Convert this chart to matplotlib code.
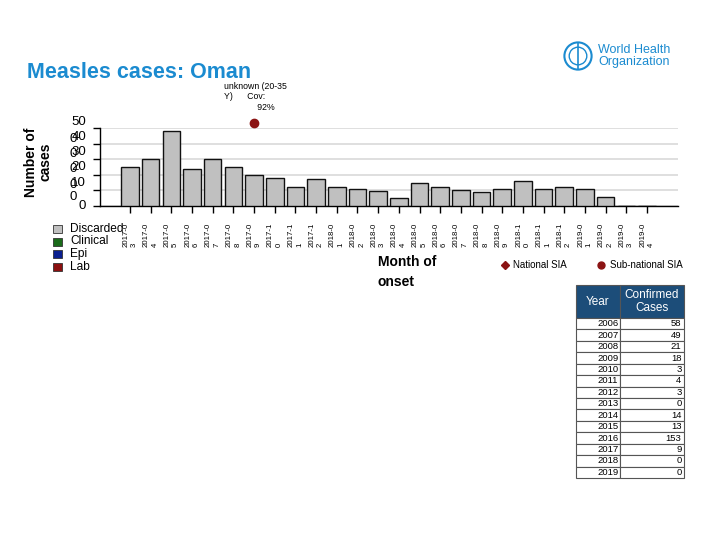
import numpy as np
import matplotlib.pyplot as plt
from matplotlib.transforms import blended_transform_factory
from matplotlib.patches import Circle

plt.rcParams['font.family'] = ['Liberation Sans', 'DejaVu Sans']

# months of onset
months = ['2017-03', '2017-04', '2017-05', '2017-06', '2017-07', '2017-08', '2017-09',
          '2017-10', '2017-11', '2017-12', '2018-01', '2018-02', '2018-03', '2018-04',
          '2018-05', '2018-06', '2018-07', '2018-08', '2018-09', '2018-10', '2018-11',
          '2018-12', '2019-01', '2019-02', '2019-03', '2019-04']
discarded = [25, 30, 48, 24, 30, 25, 20, 18, 12, 17, 12, 11, 9.5, 5, 15, 12, 10, 9,
             11, 16, 11, 12, 11, 6, 0, 0]
clinical = [0] * 26
epi = [0] * 26
lab = [0] * 26

# SIA marker
sia_month = '2017-09'
sia_y = 53
sia_text = 'unknown (20-35\nY)      Cov:\n              92%'

# confirmed cases table
tbl_years = ['2006', '2007', '2008', '2009', '2010', '2011', '2012', '2013', '2014',
             '2015', '2016', '2017', '2018', '2019']
tbl_cases = ['58', '49', '21', '18', '3', '4', '3', '0', '14', '13', '153', '9', '0', '0']

W, H = 720, 540
blue = '#1b8bd0'


def fx(x):
    return x / W


def fy(y):
    return 1 - y / H


fig = plt.figure(figsize=(7.2, 5.4), dpi=100)
ax = fig.add_axes([fx(100), fy(206), fx(678) - fx(100), fy(128) - fy(206)])

x = np.arange(len(months))
ax.bar(x, discarded, width=0.85, color='#c0c0c0', edgecolor='#111111', linewidth=1.0, zorder=3)
b = np.array(discarded, dtype=float)
for vals, col in [(clinical, '#1a6b1a'), (epi, '#0a1f8f'), (lab, '#8b1010')]:
    ax.bar(x, vals, bottom=b, width=0.85, color=col, linewidth=0, zorder=3)
    b = b + np.array(vals)

ax.plot([months.index(sia_month)], [sia_y], 'o', color='#8b1414', ms=6, clip_on=False, zorder=5)
fig.text(fx(224), fy(82), sia_text, fontsize=6.3, va='top', ha='left', linespacing=1.2)

ax.set_xlim(-1.45, 26.5)
ax.set_ylim(0, 50)
ax.set_yticks([0, 10, 20, 30, 40, 50])
ax.set_yticklabels([])
ax.yaxis.grid(True, color='#d9d9d9', linewidth=1.2, zorder=0)
ax.tick_params(axis='y', length=5, width=1, color='black')
ax.set_xticks(x)
ax.set_xticklabels([m[:6] + '\n' + m[6:] for m in months], rotation=90, fontsize=5.6,
                   multialignment='left', linespacing=1.3)
ax.tick_params(axis='x', length=5, width=1, color='black', pad=7)
for s in ['top', 'right']:
    ax.spines[s].set_visible(False)
ax.spines['left'].set_linewidth(1.0)
ax.spines['bottom'].set_linewidth(1.0)

# overlapping y labels as on the reference
tr = blended_transform_factory(fig.transFigure, ax.transData)
main_lbl = ['50', '40', '30', '20', '10']
main_pos = [54, 44.5, 34.8, 25, 14.8]
for t, p in zip(main_lbl, main_pos):
    ax.text(fx(86), p, t, transform=tr, ha='right', va='center', fontsize=9.5, clip_on=False)
    if t != '50':
        ax.text(fx(77), p - 1.5, '0', transform=tr, ha='right', va='center', fontsize=9.5,
                clip_on=False)
ax.text(fx(77), 5.8, '0', transform=tr, ha='right', va='center', fontsize=9.5, clip_on=False)
ax.text(fx(86), 0, '0', transform=tr, ha='right', va='center', fontsize=9.5, clip_on=False)

fig.text(fx(38), fy(162), 'Number of\ncases', rotation=90, ha='center', va='center',
         fontsize=10, fontweight='bold', linespacing=1.0)
fig.text(fx(378), fy(272), 'Month of\nonset', ha='left', va='center', fontsize=10,
         fontweight='bold', linespacing=1.6)

# title
fig.text(fx(27), fy(78), 'Measles cases: Oman', fontsize=15.5, fontweight='bold',
         color=blue, ha='left', va='baseline')

# WHO logo
lax = fig.add_axes([fx(562), fy(72), fx(594) - fx(562), fy(40) - fy(72)])
lax.set_xlim(-1, 1)
lax.set_ylim(-1, 1)
lax.set_aspect('equal')
lax.axis('off')
lax.add_patch(Circle((0, 0), 0.85, fill=False, ec=blue, lw=1.5))
lax.add_patch(Circle((0, 0), 0.55, fill=False, ec=blue, lw=1.0))
lax.plot([0, 0], [-0.8, 0.8], color=blue, lw=1.2)
fig.text(fx(598), fy(56), 'World Health\nOrganization', fontsize=9, color=blue,
         ha='left', va='center', linespacing=1.0)

# case classification legend
leg_lbl = ['Discarded', 'Clinical', 'Epi', 'Lab']
leg_col = ['#c0c0c0', '#1a6b1a', '#0a1f8f', '#8b1010']
for i, (t, c) in enumerate(zip(leg_lbl, leg_col)):
    yy = 229 + i * 12.5
    fig.patches.append(plt.Rectangle((fx(53), fy(yy + 4)), fx(9), 8 / H, facecolor=c,
                                     edgecolor='#333333', lw=0.6, transform=fig.transFigure))
    fig.text(fx(70), fy(yy), t, fontsize=8.6, ha='left', va='center')

# SIA legend
fig.lines.append(plt.Line2D([fx(505)], [fy(265)], marker='D', ms=4.5, color='#8b1414',
                            transform=fig.transFigure))
fig.text(fx(513), fy(265), 'National SIA', fontsize=7, ha='left', va='center')
fig.lines.append(plt.Line2D([fx(601)], [fy(265)], marker='o', ms=5, color='#8b1414',
                            transform=fig.transFigure))
fig.text(fx(610), fy(265), 'Sub-national SIA', fontsize=7, ha='left', va='center')

# table of confirmed cases
tax = fig.add_axes([fx(576), fy(478), fx(684) - fx(576), fy(285) - fy(478)])
tax.axis('off')
cells = [[y, c] for y, c in zip(tbl_years, tbl_cases)]
tbl = tax.table(cellText=cells, colLabels=['Year', 'Confirmed\nCases'],
                colWidths=[44, 64], cellLoc='right', bbox=[0, 0, 1, 1])
tbl.auto_set_font_size(False)
for (r, c), cell in tbl.get_celld().items():
    cell.set_edgecolor('#555555')
    cell.set_linewidth(0.8)
    if r == 0:
        cell.set_height(33)
        cell.set_facecolor('#1c4d79')
        cell.get_text().set_color('white')
        cell.get_text().set_fontsize(8.5)
        cell.get_text().set_ha('center')
        cell._loc = 'center'
    else:
        cell.set_height(11.4)
        cell.get_text().set_fontsize(6.8)
        cell.PAD = 0.04

fig.savefig('out.png', dpi=100)
